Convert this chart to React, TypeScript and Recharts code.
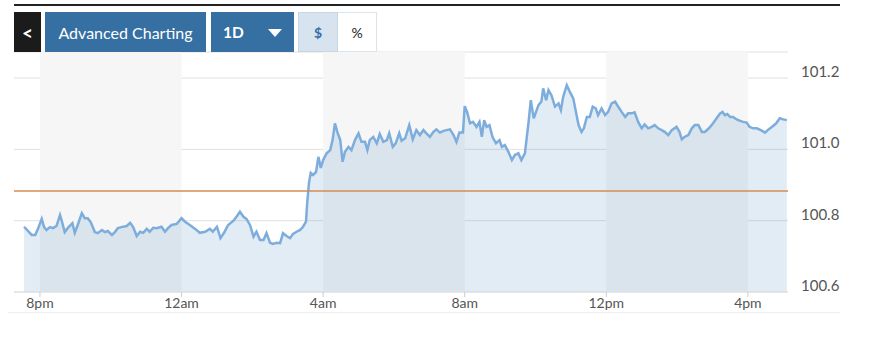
import React from "react";
import { Area, CartesianGrid, ComposedChart, ReferenceArea, ReferenceLine, XAxis, YAxis } from "recharts";

// minutes after 8pm
const minutes = [
  -27, -14, -8, -3, 3, 7, 11, 17, 22, 28,
  34, 38, 42, 47, 55, 59, 64, 71, 76, 81,
  86, 93, 98, 105, 110, 115, 122, 127, 132, 138,
  147, 153, 158, 164, 170, 175, 181, 186, 192, 198,
  206, 212, 217, 223, 232, 240, 246, 254, 263, 271,
  280, 288, 293, 300, 306, 312, 319, 328, 334, 339,
  345, 350, 356, 362, 367, 373, 379, 384, 390, 395,
  401, 407, 412, 418, 424, 429, 435, 441, 446, 451,
  453, 456, 459, 463, 468, 472, 476, 480, 486, 492,
  496, 500, 504, 509, 513, 517, 523, 528, 534, 540,
  545, 551, 555, 559, 565, 571, 576, 582, 588, 592,
  598, 603, 609, 613, 619, 626, 632, 638, 644, 650,
  655, 661, 667, 672, 678, 684, 689, 695, 701, 706,
  711, 717, 720, 724, 729, 734, 740, 745, 749, 753,
  757, 762, 767, 773, 779, 783, 788, 794, 800, 805,
  811, 816, 822, 828, 832, 837, 845, 850, 853, 858,
  862, 867, 873, 879, 883, 887, 893, 898, 904, 909,
  913, 918, 922, 927, 932, 937, 942, 946, 952, 958,
  963, 969, 975, 980, 986, 992, 997, 1003, 1008, 1014,
  1020, 1025, 1031, 1037, 1042, 1048, 1054, 1059, 1065, 1071,
  1079, 1084, 1088, 1093, 1099, 1105, 1110, 1116, 1122, 1127,
  1134, 1141, 1147, 1153, 1157, 1161, 1165, 1170, 1175, 1181,
  1187, 1192, 1198, 1203, 1209, 1215, 1222, 1229, 1235, 1240,
  1248, 1254, 1260, 1266,
];

const prices = [
  100.783, 100.76, 100.76, 100.779, 100.805, 100.782, 100.774, 100.782, 100.779, 100.785,
  100.816, 100.793, 100.768, 100.779, 100.793, 100.766, 100.788, 100.821, 100.807, 100.807,
  100.796, 100.768, 100.765, 100.774, 100.768, 100.771, 100.76, 100.768, 100.779, 100.782,
  100.785, 100.794, 100.782, 100.757, 100.769, 100.766, 100.777, 100.769, 100.78, 100.779,
  100.783, 100.769, 100.779, 100.788, 100.791, 100.807, 100.797, 100.788, 100.777, 100.766,
  100.769, 100.777, 100.769, 100.783, 100.751, 100.766, 100.788, 100.8, 100.813, 100.825,
  100.811, 100.805, 100.788, 100.755, 100.769, 100.746, 100.746, 100.765, 100.738, 100.735,
  100.738, 100.737, 100.765, 100.757, 100.751, 100.763, 100.769, 100.774, 100.783, 100.797,
  100.85, 100.906, 100.934, 100.928, 100.937, 100.979, 100.948, 100.97, 100.989, 100.998,
  101.026, 101.073, 101.049, 101.026, 100.965, 100.993, 101.007, 100.998, 101.026, 101.045,
  101.021, 101.021, 100.998, 101.026, 101.035, 101.017, 101.043, 101.021, 101.026, 101.045,
  101.007, 101.017, 101.045, 101.024, 101.031, 101.068, 101.028, 101.054, 101.04, 101.054,
  101.045, 101.035, 101.049, 101.056, 101.047, 101.052, 101.054, 101.056, 101.04, 101.021,
  101.047, 101.047, 101.121, 101.105, 101.073, 101.077, 101.063, 101.077, 101.035, 101.082,
  101.063, 101.068, 101.035, 101.017, 101.026, 101.007, 101.012, 100.993, 100.97, 100.984,
  100.989, 100.97, 100.989, 101.073, 101.138, 101.087, 101.124, 101.134, 101.171, 101.138,
  101.166, 101.152, 101.12, 101.129, 101.11, 101.148, 101.18, 101.162, 101.143, 101.101,
  101.068, 101.049, 101.059, 101.091, 101.091, 101.12, 101.115, 101.096, 101.115, 101.096,
  101.105, 101.129, 101.134, 101.12, 101.105, 101.091, 101.101, 101.101, 101.104, 101.077,
  101.059, 101.07, 101.059, 101.063, 101.068, 101.059, 101.054, 101.049, 101.04, 101.054,
  101.063, 101.049, 101.028, 101.035, 101.04, 101.059, 101.068, 101.068, 101.049, 101.049,
  101.059, 101.073, 101.087, 101.101, 101.105, 101.096, 101.099, 101.091, 101.091, 101.084,
  101.08, 101.077, 101.075, 101.063, 101.059, 101.059, 101.054, 101.047, 101.056, 101.062,
  101.073, 101.087, 101.084, 101.082,
];

const tickMinutes = [0, 240, 480, 720, 960, 1200];
const tickLabels = ["8pm", "12am", "4am", "8am", "12pm", "4pm"];
const priceTicks = [100.6, 100.8, 101.0, 101.2];
const previousClose = 100.883;
// shaded 4-hour blocks
const bands = [
  [0, 240],
  [480, 720],
  [960, 1200],
];

const rows = minutes.map((t, i) => ({ t, price: prices[i] }));

const font = "Lato, 'Open Sans', sans-serif";

function TimeTick(props: any) {
  const { x, y, payload } = props;
  const i = tickMinutes.indexOf(payload.value);
  return (
    <text x={x} y={y} dy={9} textAnchor="middle" fill="#555" fontSize={14} fontFamily={font}>
      {tickLabels[i]}
    </text>
  );
}

function PriceTick(props: any) {
  const { x, y, payload } = props;
  return (
    <text x={x} y={y} dx={5} dy={-1} textAnchor="start" fill="#555" fontSize={15} fontFamily={font}>
      {Number(payload.value).toFixed(1)}
    </text>
  );
}

const btn: React.CSSProperties = {
  position: "absolute",
  top: 12,
  height: 40,
  display: "flex",
  alignItems: "center",
  justifyContent: "center",
  fontFamily: font,
  boxSizing: "border-box",
};

export default function App() {
  return (
    <div style={{ position: "absolute", left: 0, top: 0, width: 870, height: 341, background: "#fff", overflow: "hidden" }}>
      <div style={{ position: "absolute", left: 14, top: 4, width: 826, height: 2, background: "#222" }} />
      <div style={{ position: "absolute", left: 8, top: 312, width: 832, height: 1, background: "#eeeeee" }} />

      <ComposedChart width={870} height={341} data={rows} margin={{ top: 52, right: 0, bottom: 0, left: 14 }}>
        {bands.map(([a, b]) => (
          <ReferenceArea key={a} x1={a} x2={b} fill="#f6f6f6" fillOpacity={1} stroke="none" />
        ))}
        <CartesianGrid vertical={false} stroke="#e0e0e0" />
        <XAxis
          dataKey="t"
          type="number"
          domain={[-44, 1268]}
          ticks={tickMinutes}
          interval={0}
          allowDataOverflow
          height={49}
          tickSize={5}
          axisLine={{ stroke: "#e0e0e0" }}
          tickLine={{ stroke: "#cccccc" }}
          tick={<TimeTick />}
        />
        <YAxis
          orientation="right"
          width={82}
          domain={[100.6, 101.273]}
          ticks={priceTicks}
          allowDataOverflow
          axisLine={false}
          tickLine={false}
          tick={<PriceTick />}
        />
        <ReferenceLine y={previousClose} stroke="#d38d55" strokeWidth={1.5} />
        <Area
          type="linear"
          dataKey="price"
          stroke="#7daddc"
          strokeWidth={2.5}
          fill="#6e9fc9"
          fillOpacity={0.2}
          dot={false}
          activeDot={false}
          isAnimationActive={false}
        />
      </ComposedChart>

      <div style={{ ...btn, left: 14, width: 27, background: "#1b1b1b", color: "#fff", fontSize: 19, fontWeight: 700 }}>
        &lt;
      </div>
      <div style={{ ...btn, left: 45, width: 161, background: "#366fa2", color: "#fff", fontSize: 16 }}>
        Advanced Charting
      </div>
      <div style={{ ...btn, left: 211, width: 83, background: "#366fa2", color: "#fff", fontSize: 15.5, fontWeight: 700, justifyContent: "flex-start", paddingLeft: 12 }}>
        1D
        <svg width={14} height={8} style={{ position: "absolute", left: 57, top: 17 }}>
          <polygon points="0,0 14,0 7,8" fill="#fff" />
        </svg>
      </div>
      <div style={{ ...btn, left: 298, width: 40, background: "#d7e4f0", border: "1px solid #c6d6e5", color: "#3871a8", fontSize: 14, fontWeight: 700 }}>
        $
      </div>
      <div style={{ ...btn, left: 338, width: 39, background: "#fff", border: "1px solid #dde3ea", borderLeft: "none", color: "#222", fontSize: 14 }}>
        %
      </div>
    </div>
  );
}
